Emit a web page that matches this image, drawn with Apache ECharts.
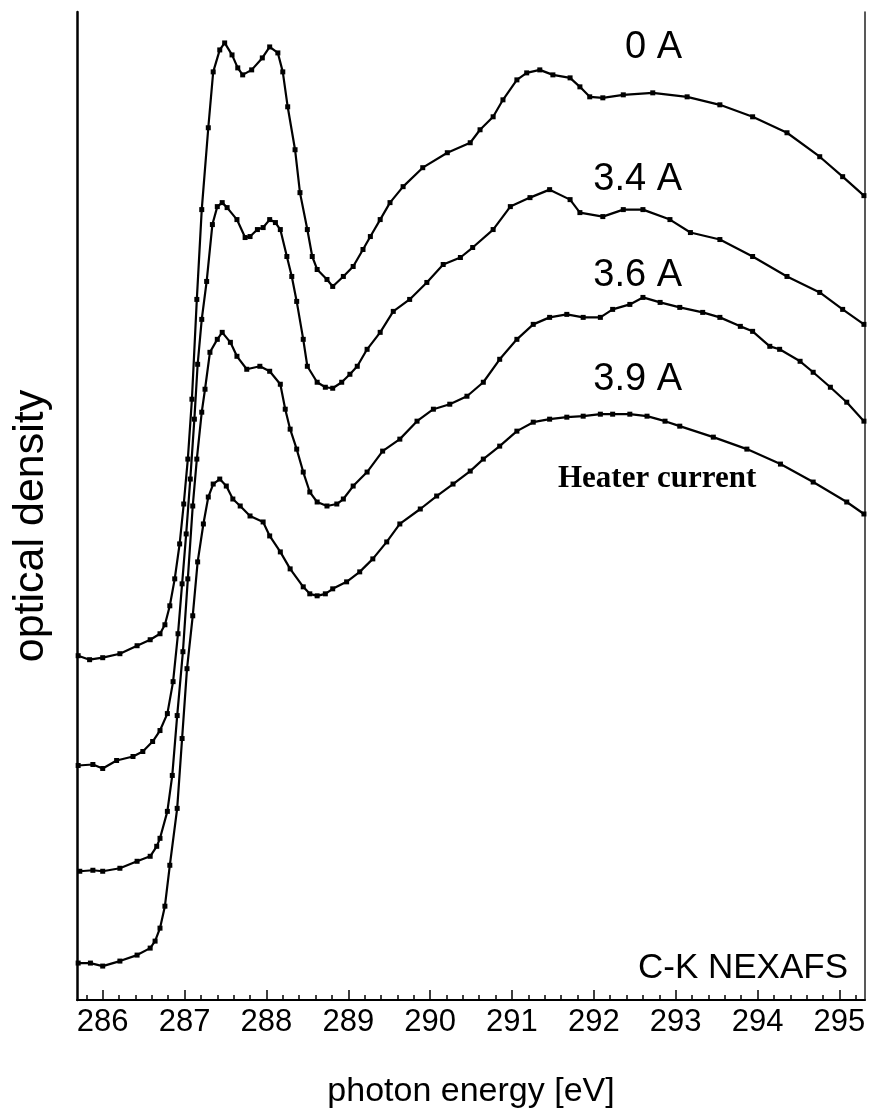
<!DOCTYPE html>
<html>
<head>
<meta charset="utf-8">
<script src="https://cdn.jsdelivr.net/npm/echarts@6/dist/echarts.min.js"></script>
<style>
html,body{margin:0;padding:0;background:#fff;}
#c{width:871px;height:1114px;}
</style>
</head>
<body>
<div id="c"></div>
<script>
// ---- data (photon energy in eV, optical density in arbitrary offset units) ----
const seriesNames = ['0 A', '3.4 A', '3.6 A', '3.9 A'];

const energy0A = [285.70,285.84,286.00,286.21,286.42,286.58,286.70,286.76,286.82,286.88,286.94,286.99,287.04,287.09,287.15,287.21,287.29,287.35,287.43,287.49,287.58,287.65,287.71,287.82,287.95,288.04,288.14,288.20,288.26,288.35,288.41,288.50,288.56,288.62,288.74,288.81,288.94,289.06,289.18,289.27,289.39,289.51,289.67,289.91,290.21,290.49,290.61,290.77,290.89,291.06,291.18,291.34,291.50,291.71,291.83,291.95,292.11,292.36,292.72,293.14,293.54,293.94,294.36,294.76,295.04,295.30];
const od0A = [3.45,3.41,3.43,3.47,3.55,3.61,3.67,3.76,3.95,4.22,4.57,4.97,5.42,6.02,7.02,7.92,8.74,9.30,9.52,9.59,9.47,9.34,9.27,9.32,9.44,9.55,9.49,9.30,8.95,8.52,8.09,7.72,7.45,7.32,7.22,7.15,7.25,7.35,7.52,7.65,7.82,7.99,8.15,8.34,8.49,8.59,8.72,8.85,9.02,9.22,9.29,9.32,9.27,9.24,9.15,9.05,9.04,9.07,9.09,9.05,8.97,8.85,8.69,8.45,8.25,8.06];

const energy34A = [285.70,285.88,286.00,286.17,286.37,286.49,286.61,286.70,286.79,286.86,286.92,286.97,287.02,287.07,287.12,287.16,287.21,287.27,287.34,287.40,287.46,287.52,287.64,287.74,287.80,287.89,287.96,288.04,288.11,288.17,288.25,288.31,288.37,288.45,288.50,288.62,288.72,288.81,288.92,289.02,289.11,289.23,289.39,289.55,289.75,289.96,290.16,290.37,290.52,290.77,290.98,291.22,291.46,291.71,291.83,292.11,292.36,292.60,292.93,293.18,293.54,293.94,294.36,294.76,295.04,295.30];
const od34A = [2.35,2.36,2.32,2.40,2.44,2.49,2.59,2.70,2.87,3.19,3.67,4.17,4.67,5.22,5.82,6.37,6.82,7.20,7.77,7.95,7.99,7.94,7.82,7.64,7.65,7.72,7.74,7.82,7.79,7.72,7.45,7.25,7.00,6.62,6.35,6.19,6.14,6.13,6.19,6.27,6.35,6.52,6.69,6.90,7.02,7.19,7.37,7.44,7.54,7.72,7.95,8.04,8.12,8.02,7.89,7.85,7.92,7.92,7.82,7.69,7.62,7.45,7.25,7.09,6.92,6.77];

const energy36A = [285.72,285.88,286.00,286.21,286.42,286.58,286.66,286.70,286.79,286.85,286.91,286.98,287.04,287.10,287.15,287.21,287.25,287.31,287.40,287.46,287.56,287.64,287.76,287.92,288.04,288.17,288.23,288.29,288.37,288.45,288.53,288.62,288.74,288.86,288.94,289.06,289.23,289.42,289.63,289.84,290.04,290.24,290.45,290.65,290.85,291.06,291.26,291.46,291.67,291.87,292.08,292.23,292.44,292.60,292.81,293.05,293.33,293.54,293.79,293.94,294.15,294.27,294.52,294.68,294.89,295.09,295.30];
const od36A = [1.29,1.30,1.29,1.32,1.39,1.44,1.54,1.62,1.89,2.25,2.85,3.49,4.22,4.95,5.42,5.89,6.12,6.49,6.62,6.69,6.59,6.45,6.32,6.35,6.30,6.17,5.92,5.72,5.52,5.29,5.09,4.99,4.95,4.97,5.02,5.15,5.29,5.50,5.62,5.80,5.92,5.97,6.05,6.19,6.42,6.62,6.77,6.84,6.87,6.84,6.84,6.92,6.97,7.04,6.99,6.94,6.89,6.84,6.75,6.70,6.55,6.52,6.40,6.29,6.14,5.99,5.80];

const energy39A = [285.70,285.85,286.00,286.21,286.42,286.58,286.64,286.70,286.76,286.82,286.91,286.97,287.03,287.10,287.16,287.23,287.29,287.35,287.43,287.51,287.59,287.68,287.80,287.96,288.04,288.17,288.29,288.45,288.53,288.62,288.72,288.81,288.98,289.14,289.30,289.47,289.63,289.88,290.08,290.28,290.49,290.65,290.85,291.06,291.26,291.46,291.67,291.87,292.08,292.23,292.44,292.65,292.87,293.05,293.46,293.87,294.28,294.68,295.09,295.30];
const od39A = [0.37,0.37,0.34,0.39,0.45,0.52,0.59,0.72,0.94,1.35,1.92,2.62,3.32,3.85,4.39,4.77,5.04,5.17,5.22,5.15,5.02,4.95,4.85,4.79,4.65,4.49,4.32,4.14,4.07,4.05,4.07,4.12,4.19,4.29,4.42,4.59,4.77,4.92,5.05,5.17,5.30,5.42,5.55,5.70,5.79,5.82,5.84,5.85,5.87,5.87,5.87,5.85,5.80,5.75,5.64,5.52,5.37,5.19,4.99,4.87];

const majorTicks = [286,287,288,289,290,291,292,293,294,295];
const minorTicks = [285.8,286.2,286.4,286.6,286.8,287.2,287.4,287.6,287.8,288.2,288.4,288.6,288.8,289.2,289.4,289.6,289.8,290.2,290.4,290.6,290.8,291.2,291.4,291.6,291.8,292.2,292.4,292.6,292.8,293.2,293.4,293.6,293.8,294.2,294.4,294.6,294.8,295.2];

const X_MIN = 285.686, X_MAX = 295.313;
const Y_MIN = 0, Y_MAX = 9.9;

function pairs(xs, ys) {
  const n = Math.min(xs.length, ys.length);
  const out = [];
  for (let i = 0; i < n; i++) out.push([xs[i], ys[i]]);
  return out;
}
const allData = [pairs(energy0A, od0A), pairs(energy34A, od34A), pairs(energy36A, od36A), pairs(energy39A, od39A)];

const chart = echarts.init(document.getElementById('c'), null, {renderer: 'canvas'});
const FONT = "'Liberation Sans', Arial, Helvetica, sans-serif";

const option = {
  animation: false,
  backgroundColor: '#fff',
  grid: {left: 77, right: 6, top: 12, bottom: 112, containLabel: false},
  xAxis: [
    {
      type: 'value', min: X_MIN, max: X_MAX, position: 'bottom',
      axisLine: {show: true, onZero: false, lineStyle: {color: '#000', width: 2}},
      axisTick: {show: true, inside: true, length: 10, customValues: majorTicks, lineStyle: {color: '#000', width: 1.5}},
      axisLabel: {show: true, customValues: majorTicks, color: '#000', fontSize: 31, fontFamily: FONT, margin: 7,
                  formatter: v => String(Math.round(v))},
      splitLine: {show: false},
      name: 'photon energy [eV]', nameLocation: 'middle', nameGap: 75,
      nameTextStyle: {color: '#000', fontSize: 34, fontFamily: FONT}
    },
    {
      type: 'value', min: X_MIN, max: X_MAX, position: 'bottom', offset: 0,
      axisLine: {show: false},
      axisTick: {show: true, inside: true, length: 5, customValues: minorTicks, lineStyle: {color: '#000', width: 1.5}},
      axisLabel: {show: false},
      splitLine: {show: false}
    }
  ],
  yAxis: [
    {
      type: 'value', min: Y_MIN, max: Y_MAX, position: 'left',
      axisLine: {show: true, onZero: false, lineStyle: {color: '#000', width: 2.5}},
      axisTick: {show: false}, axisLabel: {show: false}, splitLine: {show: false},
      name: 'optical density', nameLocation: 'middle', nameGap: 24, nameRotate: 90,
      nameTextStyle: {color: '#000', fontSize: 43, fontFamily: FONT, padding: [0, 40, 0, 0]}
    },
    {
      type: 'value', min: Y_MIN, max: Y_MAX, position: 'right',
      axisLine: {show: true, onZero: false, lineStyle: {color: '#222', width: 1.5}},
      axisTick: {show: false}, axisLabel: {show: false}, splitLine: {show: false}
    }
  ],
  series: allData.map((d, i) => ({
    name: seriesNames[i],
    type: 'line',
    xAxisIndex: 0, yAxisIndex: 0,
    data: d,
    symbol: 'rect', symbolSize: 5, showSymbol: true,
    itemStyle: {color: '#000'},
    lineStyle: {color: '#000', width: 2.2},
    clip: true,
    silent: true
  })),
  graphic: [
    {type: 'text', x: 682, y: 48, style: {text: '0 A', fill: '#000', font: "38px " + FONT, textAlign: 'right', textVerticalAlign: 'middle'}},
    {type: 'text', x: 682, y: 180, style: {text: '3.4 A', fill: '#000', font: "38px " + FONT, textAlign: 'right', textVerticalAlign: 'middle'}},
    {type: 'text', x: 682, y: 276, style: {text: '3.6 A', fill: '#000', font: "38px " + FONT, textAlign: 'right', textVerticalAlign: 'middle'}},
    {type: 'text', x: 682, y: 380, style: {text: '3.9 A', fill: '#000', font: "38px " + FONT, textAlign: 'right', textVerticalAlign: 'middle'}},
    {type: 'text', x: 558, y: 479, style: {text: 'Heater current', fill: '#000', font: "bold 31px 'Liberation Serif', 'Times New Roman', serif", textAlign: 'left', textVerticalAlign: 'middle'}},
    {type: 'text', x: 848, y: 968, style: {text: 'C-K NEXAFS', fill: '#000', font: "35px " + FONT, textAlign: 'right', textVerticalAlign: 'middle'}}
  ]
};
chart.setOption(option);
</script>
</body>
</html>
